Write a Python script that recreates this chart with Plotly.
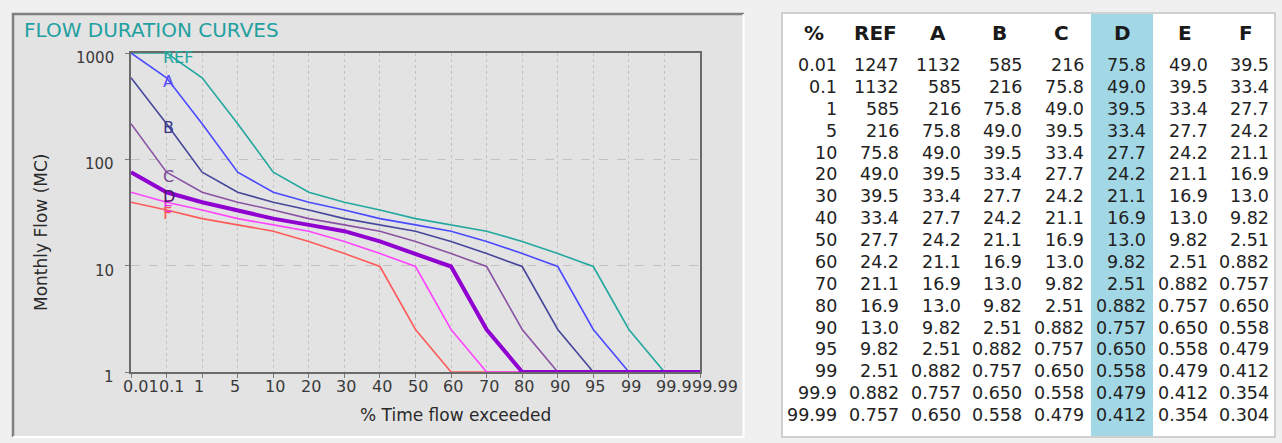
import numpy as np
import plotly.graph_objects as go

# ---------------- data ----------------
pct_labels = ["0.01", "0.1", "1", "5", "10", "20", "30", "40", "50", "60",
              "70", "80", "90", "95", "99", "99.9", "99.99"]
series_names = ["REF", "A", "B", "C", "D", "E", "F"]
REF = [1247, 1132, 585, 216, 75.8, 49.0, 39.5, 33.4, 27.7, 24.2, 21.1, 16.9, 13.0, 9.82, 2.51, 0.882, 0.757]
A = [1132, 585, 216, 75.8, 49.0, 39.5, 33.4, 27.7, 24.2, 21.1, 16.9, 13.0, 9.82, 2.51, 0.882, 0.757, 0.650]
B = [585, 216, 75.8, 49.0, 39.5, 33.4, 27.7, 24.2, 21.1, 16.9, 13.0, 9.82, 2.51, 0.882, 0.757, 0.650, 0.558]
C = [216, 75.8, 49.0, 39.5, 33.4, 27.7, 24.2, 21.1, 16.9, 13.0, 9.82, 2.51, 0.882, 0.757, 0.650, 0.558, 0.479]
D = [75.8, 49.0, 39.5, 33.4, 27.7, 24.2, 21.1, 16.9, 13.0, 9.82, 2.51, 0.882, 0.757, 0.650, 0.558, 0.479, 0.412]
E = [49.0, 39.5, 33.4, 27.7, 24.2, 21.1, 16.9, 13.0, 9.82, 2.51, 0.882, 0.757, 0.650, 0.558, 0.479, 0.412, 0.354]
F = [39.5, 33.4, 27.7, 24.2, 21.1, 16.9, 13.0, 9.82, 2.51, 0.882, 0.757, 0.650, 0.558, 0.479, 0.412, 0.354, 0.304]
y_tick_vals = [1, 10, 100, 1000]
y_tick_text = ["1", "10", "100", "1000"]

series = {"REF": REF, "A": A, "B": B, "C": C, "D": D, "E": E, "F": F}

# ---------------- styles ----------------
W, H = 1282, 443
colors = {"REF": "#22a89e", "A": "#4a4aff", "B": "#46469a", "C": "#8a52a2",
          "D": "#9000d0", "E": "#ff44ff", "F": "#ff5a5a"}
label_colors = {"REF": "#22a89e", "A": "#5a4aff", "B": "#3a3a8a", "C": "#7a4a96",
                "D": "#4a1a6a", "E": "#e030e0", "F": "#ff5a5a"}
widths = {"REF": 1.6, "A": 1.6, "B": 1.6, "C": 1.6, "D": 4, "E": 1.6, "F": 1.6}
draw_order = ["REF", "A", "B", "C", "F", "E", "D"]
FONT = "DejaVu Sans"


def px(x):
    return x / W


def py(y):
    return 1 - y / H


fig = go.Figure()

for name in draw_order:
    yv = np.clip(np.array(series[name], dtype=float), 1, 1000)
    fig.add_trace(go.Scatter(
        x=pct_labels, y=yv, mode="lines", name=name,
        line=dict(color=colors[name], width=widths[name]),
        cliponaxis=False, showlegend=False, hoverinfo="skip",
    ))

annotations = []

# curve labels at the 0.1 % position
for name in ["REF", "A", "B", "C", "E", "F", "D"]:
    v = float(np.clip(series[name][1], 1, 1000))
    annotations.append(dict(
        x=1, y=np.log10(v), xref="x", yref="y", text=name, showarrow=False,
        xanchor="left", yanchor="middle", xshift=-4, yshift=-4,
        font=dict(family=FONT, size=16, color=label_colors[name]),
        borderpad=0, borderwidth=0,
    ))

# x tick labels
for i, lab in enumerate(pct_labels):
    annotations.append(dict(
        x=i, y=py(386), xref="x", yref="paper", text=lab, showarrow=False,
        xanchor="left", yanchor="middle", xshift=-8,
        font=dict(family=FONT, size=16, color="#3a3a3a"),
        borderpad=0, borderwidth=0,
    ))

# y tick labels
for v, t in zip(y_tick_vals, y_tick_text):
    annotations.append(dict(
        x=px(114), y=np.log10(v), xref="paper", yref="y", text=t, showarrow=False,
        xanchor="right", yanchor="middle", yshift=-5,
        font=dict(family=FONT, size=15, color="#3a3a3a"),
        borderpad=0, borderwidth=0,
    ))

# titles
annotations.append(dict(x=px(22), y=py(30), xref="paper", yref="paper",
                        text="FLOW DURATION CURVES", showarrow=False,
                        xanchor="left", yanchor="middle",
                        font=dict(family=FONT, size=20, color="#22a0a0")))
annotations.append(dict(x=px(455), y=py(415), xref="paper", yref="paper",
                        text="% Time flow exceeded", showarrow=False,
                        xanchor="center", yanchor="middle",
                        font=dict(family=FONT, size=17, color="#2a2a2a")))
annotations.append(dict(x=px(41), y=py(233), xref="paper", yref="paper",
                        text="Monthly Flow (MC)", showarrow=False, textangle=-90,
                        xanchor="center", yanchor="middle",
                        font=dict(family=FONT, size=17, color="#2a2a2a")))


# ---------------- table ----------------
def fmt(v):
    if v >= 100:
        return f"{v:.0f}"
    return f"{v:#.3g}"


header = ["%"] + series_names
HEADER_ROW = -1.46
for ci, h in enumerate(header):
    annotations.append(dict(
        x=ci, y=HEADER_ROW, xref="x2", yref="y2", text=f"<b>{h}</b>", showarrow=False,
        xanchor="center", yanchor="middle", xshift=-23,
        font=dict(family=FONT, size=20, color="#1a1a1a"),
        borderpad=0, borderwidth=0,
    ))
for ri, lab in enumerate(pct_labels):
    row = [lab] + [fmt(series[n][ri]) for n in series_names]
    for ci, txt in enumerate(row):
        annotations.append(dict(
            x=ci, y=ri, xref="x2", yref="y2", text=txt, showarrow=False,
            xanchor="right", yanchor="middle",
            font=dict(family=FONT, size=17.5, color="#222222"),
            borderpad=0, borderwidth=0,
        ))

# table axes mapping: right edge of column i at 837 + 61.75*i px; row r at 65 + 21.875*r px
col_step = 61.75
tx0, tx1 = 782, 1275
x2_r0 = (tx0 - 837) / col_step
x2_r1 = (tx1 - 837) / col_step
row_step = 21.875
ty0, ty1 = 13, 437
y2_top = (ty0 - 65) / row_step
y2_bot = (ty1 - 65) / row_step

shapes = [
    # chart panel
    dict(type="rect", xref="paper", yref="paper", x0=px(12), x1=px(744), y0=py(437), y1=py(13),
         fillcolor="#e3e3e3", line=dict(width=0), layer="below"),
    dict(type="line", xref="paper", yref="paper", x0=px(13), x1=px(13), y0=py(437), y1=py(13),
         line=dict(color="#808080", width=2.5), layer="below"),
    dict(type="line", xref="paper", yref="paper", x0=px(12), x1=px(744), y0=py(14), y1=py(14),
         line=dict(color="#808080", width=2.5), layer="below"),
    dict(type="line", xref="paper", yref="paper", x0=px(743.5), x1=px(743.5), y0=py(437), y1=py(14),
         line=dict(color="#ffffff", width=2), layer="below"),
    dict(type="line", xref="paper", yref="paper", x0=px(13), x1=px(744), y0=py(437), y1=py(437),
         line=dict(color="#ffffff", width=2), layer="below"),
    # table box
    dict(type="rect", xref="paper", yref="paper", x0=px(782), x1=px(1275), y0=py(437), y1=py(13),
         fillcolor="#ffffff", line=dict(color="#c4c4c4", width=1.5), layer="below"),
    # highlighted column D
    dict(type="rect", xref="paper", yref="paper", x0=px(1091), x1=px(1153), y0=py(436), y1=py(14),
         fillcolor="#a2d8e6", line=dict(width=0), layer="below"),
]

fig.update_layout(
    width=W, height=H,
    margin=dict(l=0, r=0, t=0, b=0),
    paper_bgcolor="#f0f0f0",
    plot_bgcolor="rgba(0,0,0,0)",
    showlegend=False,
    font=dict(family=FONT),
    xaxis=dict(
        type="category", domain=[px(131), px(700)], range=[0, len(pct_labels) - 1],
        showticklabels=False, showgrid=True, gridcolor="#c2c2c2", griddash="dot", gridwidth=1,
        showline=True, linecolor="#6a6a6a", linewidth=2, mirror=True,
        ticks="outside", ticklen=4, tickcolor="#7a7a7a",
        zeroline=False, layer="below traces", fixedrange=True,
    ),
    yaxis=dict(
        type="log", domain=[py(372), py(53)], range=[0, 3],
        tickvals=y_tick_vals, showticklabels=False,
        showgrid=True, gridcolor="#c2c2c2", griddash="dash", gridwidth=1,
        showline=True, linecolor="#6a6a6a", linewidth=2, mirror=True,
        ticks="outside", ticklen=4, tickcolor="#7a7a7a",
        zeroline=False, layer="below traces", fixedrange=True,
    ),
    xaxis2=dict(domain=[px(tx0), px(tx1)], range=[x2_r0, x2_r1], visible=False,
                anchor="y2", fixedrange=True),
    yaxis2=dict(domain=[py(ty1), py(ty0)], range=[y2_bot, y2_top], visible=False,
                anchor="x2", fixedrange=True),
    annotations=annotations,
    shapes=shapes,
)

fig.write_html("out.html")
